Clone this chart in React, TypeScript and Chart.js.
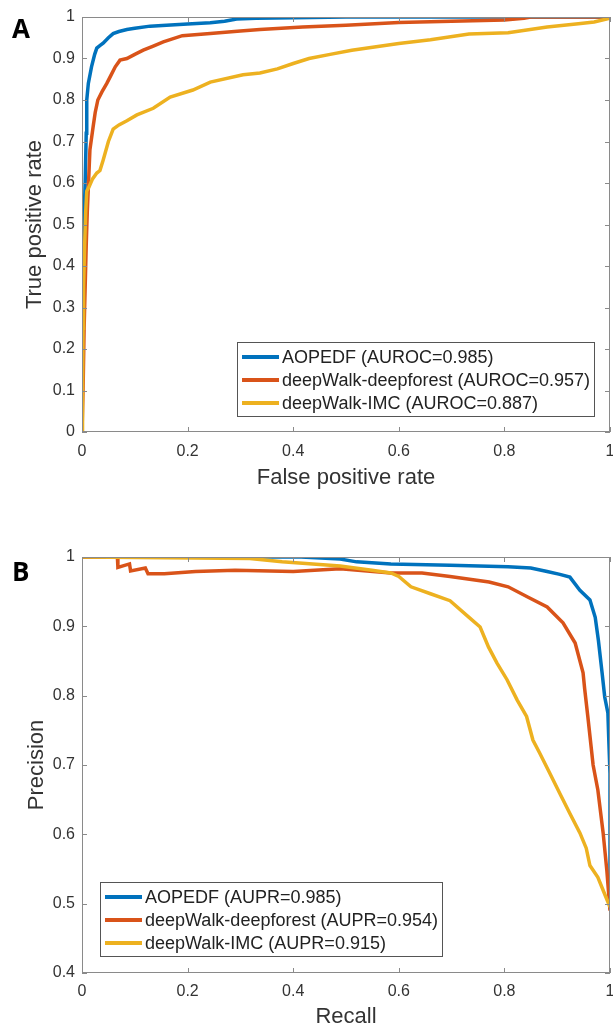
import React, { useEffect, useRef } from "react";
import { Chart, registerables } from "chart.js";

Chart.register(...registerables);

// ---------- Panel A: ROC data ----------
const rocLabels = [
  "AOPEDF (AUROC=0.985)",
  "deepWalk-deepforest (AUROC=0.957)",
  "deepWalk-IMC (AUROC=0.887)",
];
const rocAopedfFpr = [0, 0, 0.002, 0.004, 0.006, 0.008, 0.009, 0.012, 0.018, 0.024, 0.028, 0.035, 0.04, 0.05, 0.059, 0.07, 0.085, 0.1, 0.129, 0.16, 0.2, 0.243, 0.27, 0.293, 0.33, 0.4, 0.5, 0.7, 1];
const rocAopedfTpr = [0, 0.33, 0.42, 0.52, 0.6, 0.72, 0.8, 0.84, 0.88, 0.91, 0.925, 0.932, 0.937, 0.95, 0.96, 0.965, 0.97, 0.973, 0.978, 0.98, 0.983, 0.986, 0.99, 0.995, 0.997, 0.998, 1, 1, 1];
const rocForestFpr = [0, 0.002, 0.004, 0.006, 0.008, 0.01, 0.012, 0.015, 0.021, 0.025, 0.03, 0.038, 0.047, 0.055, 0.063, 0.072, 0.085, 0.1, 0.116, 0.135, 0.154, 0.19, 0.243, 0.3, 0.337, 0.418, 0.5, 0.6, 0.7, 0.8, 0.837, 0.85, 1];
const rocForestTpr = [0, 0.1, 0.25, 0.35, 0.45, 0.53, 0.59, 0.68, 0.735, 0.77, 0.8, 0.82, 0.84, 0.86, 0.88, 0.896, 0.9, 0.91, 0.92, 0.93, 0.94, 0.955, 0.96, 0.966, 0.97, 0.976, 0.98, 0.987, 0.99, 0.993, 0.997, 1, 1];
const rocImcFpr = [0, 0.001, 0.002, 0.003, 0.005, 0.007, 0.009, 0.013, 0.02, 0.028, 0.034, 0.04, 0.05, 0.059, 0.07, 0.085, 0.104, 0.135, 0.167, 0.21, 0.243, 0.305, 0.337, 0.37, 0.4, 0.43, 0.47, 0.511, 0.6, 0.66, 0.733, 0.807, 0.881, 0.94, 0.97, 1];
const rocImcTpr = [0, 0.1, 0.25, 0.35, 0.45, 0.53, 0.58, 0.59, 0.61, 0.624, 0.63, 0.655, 0.7, 0.73, 0.74, 0.75, 0.764, 0.78, 0.807, 0.824, 0.843, 0.861, 0.865, 0.875, 0.888, 0.9, 0.91, 0.92, 0.936, 0.945, 0.959, 0.962, 0.976, 0.984, 0.988, 0.997];
const rocXTicks = [0, 0.2, 0.4, 0.6, 0.8, 1];
const rocYTicks = [0, 0.1, 0.2, 0.3, 0.4, 0.5, 0.6, 0.7, 0.8, 0.9, 1];

// ---------- Panel B: PR data ----------
const prLabels = [
  "AOPEDF (AUPR=0.985)",
  "deepWalk-deepforest (AUPR=0.954)",
  "deepWalk-IMC (AUPR=0.915)",
];
const prAopedfRec = [0, 0.318, 0.415, 0.489, 0.52, 0.585, 0.697, 0.807, 0.85, 0.881, 0.905, 0.924, 0.943, 0.962, 0.972, 0.978, 0.985, 0.99, 0.996, 0.998, 1, 1];
const prAopedfPrec = [1, 1, 1, 0.997, 0.993, 0.99, 0.988, 0.986, 0.984, 0.979, 0.975, 0.971, 0.952, 0.938, 0.913, 0.88, 0.833, 0.798, 0.775, 0.73, 0.688, 0.5];
const prForestRec = [0, 0.067, 0.068, 0.09, 0.092, 0.12, 0.125, 0.156, 0.215, 0.29, 0.4, 0.489, 0.585, 0.644, 0.697, 0.771, 0.807, 0.845, 0.881, 0.911, 0.934, 0.949, 0.952, 0.958, 0.968, 0.977, 0.987, 0.994, 1];
const prForestPrec = [1, 1, 0.985, 0.99, 0.98, 0.984, 0.976, 0.976, 0.979, 0.981, 0.979, 0.983, 0.977, 0.977, 0.972, 0.964, 0.957, 0.942, 0.928, 0.905, 0.876, 0.833, 0.81, 0.77, 0.7, 0.664, 0.602, 0.548, 0.49];
const prImcRec = [0, 0.318, 0.379, 0.437, 0.489, 0.549, 0.585, 0.6, 0.623, 0.66, 0.697, 0.733, 0.754, 0.77, 0.786, 0.805, 0.824, 0.842, 0.854, 0.867, 0.886, 0.905, 0.924, 0.943, 0.955, 0.962, 0.977, 0.992, 1];
const prImcPrec = [1, 0.998, 0.993, 0.99, 0.987, 0.981, 0.977, 0.972, 0.957, 0.947, 0.937, 0.913, 0.899, 0.87, 0.847, 0.823, 0.794, 0.77, 0.736, 0.717, 0.688, 0.659, 0.63, 0.602, 0.58, 0.555, 0.538, 0.51, 0.495];
const prXTicks = [0, 0.2, 0.4, 0.6, 0.8, 1];
const prYTicks = [0.4, 0.5, 0.6, 0.7, 0.8, 0.9, 1];

const seriesColors = ["#0072BD", "#D95319", "#EDB120"];
const FONT = "'Liberation Sans', Arial, sans-serif";
const AXIS_GREY = "#8a8a8a";
const TEXT_COL = "#333333";

const zip = (xs: number[], ys: number[]) => xs.map((x, i) => ({ x, y: ys[i] }));
const fmt = (v: any) => String(+Number(v).toFixed(2));

const matlabPlugin = {
  id: "matlabBox",
  afterDatasetsDraw(chart: any, _args: any, opts: any) {
    const { ctx, chartArea: a, scales } = chart;
    ctx.save();
    ctx.strokeStyle = AXIS_GREY;
    ctx.lineWidth = 1;
    const L = 5;
    ctx.beginPath();
    scales.x.ticks.forEach((t: any) => {
      const px = Math.round(scales.x.getPixelForValue(t.value)) + 0.5;
      ctx.moveTo(px, a.bottom);
      ctx.lineTo(px, a.bottom - L);
      ctx.moveTo(px, a.top);
      ctx.lineTo(px, a.top + L);
    });
    scales.y.ticks.forEach((t: any) => {
      const py = Math.round(scales.y.getPixelForValue(t.value)) + 0.5;
      ctx.moveTo(a.left, py);
      ctx.lineTo(a.left + L, py);
      ctx.moveTo(a.right, py);
      ctx.lineTo(a.right - L, py);
    });
    ctx.stroke();
    ctx.strokeRect(Math.round(a.left) + 0.5, Math.round(a.top) + 0.5, Math.round(a.right - a.left) - 1, Math.round(a.bottom - a.top) - 1);

    // legend
    const ds = chart.data.datasets;
    ctx.font = `18px ${FONT}`;
    const textW = Math.max(...ds.map((d: any) => ctx.measureText(d.label).width));
    const w = 45 + textW + 4;
    const h = 74;
    const left = opts.corner === "br" ? a.right - opts.insetX - w : a.left + opts.insetX;
    const top = a.bottom - opts.insetY - h;
    ctx.fillStyle = "#ffffff";
    ctx.fillRect(left, top, w, h);
    ctx.strokeStyle = "#555555";
    ctx.strokeRect(Math.round(left) + 0.5, Math.round(top) + 0.5, Math.round(w), Math.round(h));
    ds.forEach((d: any, i: number) => {
      const cy = top + 15 + i * 23;
      ctx.strokeStyle = d.borderColor;
      ctx.lineWidth = 4;
      ctx.beginPath();
      ctx.moveTo(left + 5, cy);
      ctx.lineTo(left + 42, cy);
      ctx.stroke();
      ctx.fillStyle = "#222222";
      ctx.textBaseline = "middle";
      ctx.textAlign = "left";
      ctx.fillText(d.label, left + 45, cy + 1);
    });
    ctx.restore();
  },
};

type PanelProps = {
  height: number;
  labels: string[];
  series: { x: number[]; y: number[] }[];
  xTicks: number[];
  yTicks: number[];
  yMin: number;
  xTitle: string;
  yTitle: string;
  padTop: number;
  xAxisHeight: number;
  xTickPad: number;
  xTitlePad: number;
  yTitlePad: number;
  legend: { corner: string; insetX: number; insetY: number };
};

function Panel(p: PanelProps) {
  const ref = useRef<HTMLCanvasElement | null>(null);
  useEffect(() => {
    if (!ref.current) return;
    const datasets = p.series.map((s, i) => ({
      label: p.labels[i],
      data: zip(s.x, s.y),
      borderColor: seriesColors[i],
      backgroundColor: seriesColors[i],
      borderWidth: 3.5,
      pointRadius: 0,
      fill: false,
      tension: 0,
      order: 2 - i,
    }));
    const chart = new Chart(ref.current, {
      type: "line",
      data: { datasets },
      options: {
        responsive: false,
        maintainAspectRatio: false,
        animation: false,
        layout: { padding: { left: 0, right: 3, top: p.padTop, bottom: 0 } },
        scales: {
          x: {
            type: "linear",
            min: 0,
            max: 1,
            afterBuildTicks: (s: any) => {
              s.ticks = p.xTicks.map((v) => ({ value: v }));
            },
            ticks: { font: { size: 16, family: FONT }, color: TEXT_COL, padding: p.xTickPad, maxRotation: 0, callback: fmt },
            grid: { display: false, drawTicks: false },
            border: { display: false },
            title: {
              display: true,
              text: p.xTitle,
              color: TEXT_COL,
              font: { size: 22, family: FONT, lineHeight: 1 },
              padding: { top: 0, bottom: p.xTitlePad },
            },
            afterFit: (s: any) => {
              s.height = p.xAxisHeight;
              s.paddingLeft = 0;
              s.paddingRight = 0;
            },
          },
          y: {
            type: "linear",
            min: p.yMin,
            max: 1,
            afterBuildTicks: (s: any) => {
              s.ticks = p.yTicks.map((v) => ({ value: v }));
            },
            ticks: { font: { size: 16, family: FONT }, color: TEXT_COL, padding: 7, callback: fmt },
            grid: { display: false, drawTicks: false },
            border: { display: false },
            title: {
              display: true,
              text: p.yTitle,
              color: TEXT_COL,
              font: { size: 22, family: FONT, lineHeight: 1 },
              padding: { top: p.yTitlePad, bottom: 0 },
            },
            afterFit: (s: any) => {
              s.width = 82;
              s.paddingTop = 0;
              s.paddingBottom = 0;
            },
          },
        },
        plugins: {
          legend: { display: false },
          tooltip: { enabled: false },
          matlabBox: p.legend,
        } as any,
      },
      plugins: [matlabPlugin],
    } as any);
    return () => chart.destroy();
  }, []);
  return <canvas ref={ref} width={613} height={p.height} style={{ display: "block" }} />;
}

const letterStyle: React.CSSProperties = {
  position: "absolute",
  left: 12,
  fontFamily: "'Open Sans', sans-serif",
  fontWeight: 700,
  fontSize: 26,
  lineHeight: "26px",
  color: "#000",
};

export default function App() {
  return (
    <div style={{ position: "absolute", left: 0, top: 0, width: 613, height: 1028, background: "#fff", overflow: "hidden" }}>
      <Panel
        height={500}
        labels={rocLabels}
        series={[
          { x: rocAopedfFpr, y: rocAopedfTpr },
          { x: rocForestFpr, y: rocForestTpr },
          { x: rocImcFpr, y: rocImcTpr },
        ]}
        xTicks={rocXTicks}
        yTicks={rocYTicks}
        yMin={0}
        xTitle="False positive rate"
        yTitle="True positive rate"
        padTop={17}
        xAxisHeight={68}
        xTickPad={10}
        xTitlePad={11}
        yTitlePad={24}
        legend={{ corner: "br", insetX: 16, insetY: 16 }}
      />
      <Panel
        height={528}
        labels={prLabels}
        series={[
          { x: prAopedfRec, y: prAopedfPrec },
          { x: prForestRec, y: prForestPrec },
          { x: prImcRec, y: prImcPrec },
        ]}
        xTicks={prXTicks}
        yTicks={prYTicks}
        yMin={0.4}
        xTitle="Recall"
        yTitle="Precision"
        padTop={57}
        xAxisHeight={55}
        xTickPad={9}
        xTitlePad={0}
        yTitlePad={26}
        legend={{ corner: "bl", insetX: 18, insetY: 17 }}
      />
      <div style={{ ...letterStyle, top: 15 }}>A</div>
      <div style={{ ...letterStyle, top: 558 }}>B</div>
    </div>
  );
}
